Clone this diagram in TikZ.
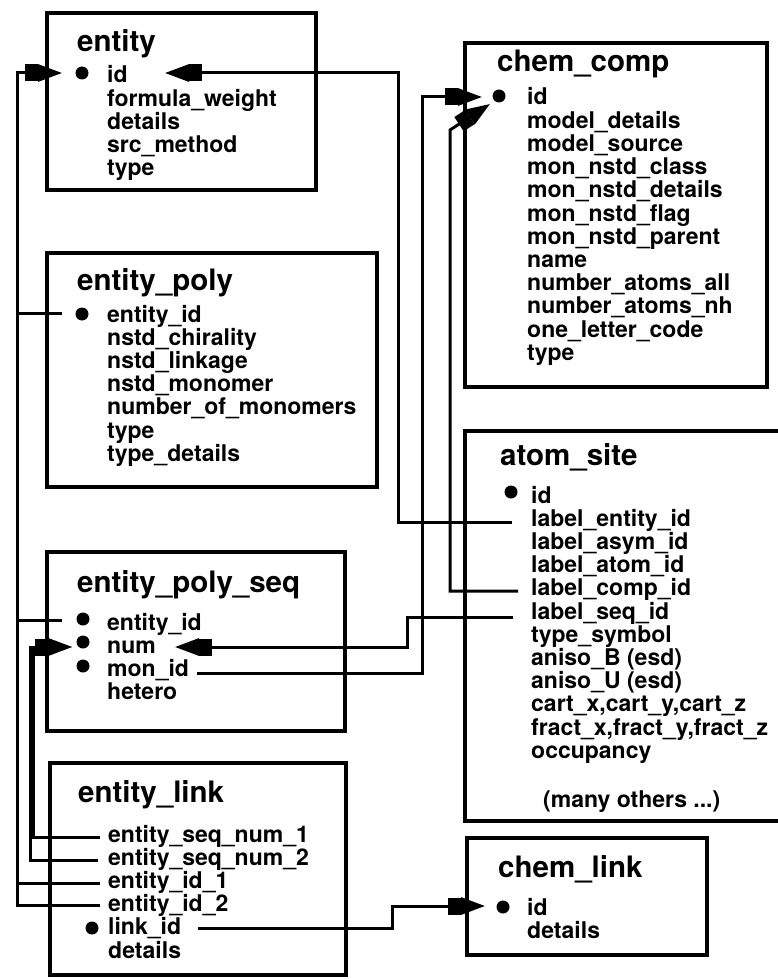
\documentclass[tikz,border=0pt]{standalone}
\usepackage{fontspec}
\setmainfont{TeX Gyre Heros}
\usetikzlibrary{arrows.meta,fit}

% one column of field names, placed on a fixed baseline grid
\newcommand{\fieldlist}[4]{%
  \foreach \txt [count=\k from 0] in {#4} {%
    \node[fld] (#1-\k) at (#2,{#3+\k*23.2}) {\txt};}}

\tikzset{
  tbl/.style={draw, line width=4.5pt, inner sep=0pt},
  ttl/.style={anchor=base west, inner sep=0pt, font=\fontsize{29.5}{29.5}\selectfont\bfseries},
  fld/.style={anchor=base west, inner sep=0pt, font=\fontsize{23}{23}\selectfont\bfseries},
  conn/.style={draw, line width=3pt},
  keydot/.style={circle, fill, inner sep=0pt, minimum size=13pt},
  erarrow/.tip={Rectangle[length=13pt,width=17pt] Triangle[length=24pt,width=17pt]}
}

\begin{document}
\begin{tikzpicture}[x=1pt,y=-1pt]
\useasboundingbox (0,0) rectangle (778,979);
\fill[white] (0,0) rectangle (778,979);
\clip (0,0) rectangle (778,979);

% ---- tables ----
\node[tbl, fit={(47,13) (316,190)}] (entity) {};
\node[tbl, fit={(47,253) (377,487)}] (entitypoly) {};
\node[tbl, fit={(47,552) (345,731)}] (entitypolyseq) {};
\node[tbl, fit={(50,763) (346,975)}] (entitylink) {};
\node[tbl, fit={(465,43) (767,387)}] (chemcomp) {};
\node[tbl, fit={(465,431) (784,821)}] (atomsite) {};
\node[tbl, fit={(467,838) (707,955)}] (chemlink) {};

% ---- titles ----
\node[ttl] (t-entity) at (77,52) {entity};
\node[ttl] (t-entitypoly) at (77,290) {entity\_poly};
\node[ttl] (t-entitypolyseq) at (77,592) {entity\_poly\_seq};
\node[ttl] (t-entitylink) at (78,802) {entity\_link};
\node[ttl] (t-chemcomp) at (497,72) {chem\_comp};
\node[ttl] (t-atomsite) at (500,465) {atom\_site};
\node[ttl] (t-chemlink) at (498,877) {chem\_link};

% ---- fields ----
\fieldlist{ent}{107}{83}{id, formula\_weight, details, src\_method, type}
\fieldlist{ep}{107}{322}{entity\_id, nstd\_chirality, nstd\_linkage,
  nstd\_monomer, number\_of\_monomers, type, type\_details}
\fieldlist{eps}{107}{630}{entity\_id, num, mon\_id, hetero}
\fieldlist{elk}{108}{842}{entity\_seq\_num\_1, entity\_seq\_num\_2,
  entity\_id\_1, entity\_id\_2, link\_id, details}
\fieldlist{cc}{527}{105}{id, model\_details, model\_source, mon\_nstd\_class,
  mon\_nstd\_details, mon\_nstd\_flag, mon\_nstd\_parent, name,
  number\_atoms\_all, number\_atoms\_nh, one\_letter\_code, type}
\fieldlist{as}{531}{503}{id, label\_entity\_id, label\_asym\_id, label\_atom\_id,
  label\_comp\_id, label\_seq\_id, type\_symbol, aniso\_B (esd), aniso\_U (esd),
  {cart\_x,cart\_y,cart\_z}, {fract\_x,fract\_y,fract\_z}, occupancy}
\node[fld] (as-more) at (543,807) {(many others ...)};
\fieldlist{cl}{527}{915}{id, details}

% ---- key markers ----
\node[keydot] (k-ent) at (82,73) {};
\node[keydot] (k-ep) at (82,314) {};
\node[keydot] (k-eps1) at (83,619) {};
\node[keydot] (k-eps2) at (83,642) {};
\node[keydot] (k-eps3) at (83,666) {};
\node[keydot] (k-elk) at (92,928) {};
\node[keydot] (k-cc) at (499,96) {};
\node[keydot] (k-as) at (511,492) {};
\node[keydot] (k-cl) at (503,907) {};

% ---- connector ports ----
\coordinate (ent-idL) at (62,73);
\coordinate (ent-idR) at (165,73);
\coordinate (ep-eid) at (62,313);
\coordinate (eps-eid) at (62,620);
\coordinate (eps-numL) at (72,647);
\coordinate (eps-numR) at (175,647);
\coordinate (eps-mon) at (197,673);
\coordinate (elk-s1) at (100,837);
\coordinate (elk-s2) at (98,860);
\coordinate (elk-e1) at (100,883);
\coordinate (elk-e2) at (100,905);
\coordinate (elk-lid) at (198,928);
\coordinate (cc-idA) at (482,97);
\coordinate (cc-idB) at (490,104);
\coordinate (as-le) at (512,522);
\coordinate (as-lc) at (518,591);
\coordinate (as-ls) at (513,617);
\coordinate (cl-id) at (485,906);

% ---- bends ----
\coordinate (bA) at (17,73);
\coordinate (bB) at (398,73);
\coordinate (bC) at (422,97);
\coordinate (bD) at (450,130);
\coordinate (bE) at (407,647);
\coordinate (bF) at (30,647);
\coordinate (bG) at (33,647);
\coordinate (bH) at (392,906);

% ---- connectors ----
\draw[conn,-{erarrow}] (elk-e2) -| (bA) -- (ent-idL);
\draw[conn] (elk-e1) -- (elk-e1 -| bA);
\draw[conn] (ep-eid) -- (ep-eid -| bA);
\draw[conn] (eps-eid) -- (eps-eid -| bA);
\draw[conn,-{erarrow}] (as-le) -| (bB) -- (ent-idR);
\draw[conn,-{erarrow}] (eps-mon) -| (bC) -- (cc-idA);
\draw[conn,-{erarrow}] (as-lc) -| (bD) -- (cc-idB);
\draw[conn,-{erarrow}] (as-ls) -| (bE) -- (eps-numR);
\draw[conn,-{erarrow}] (elk-s2) -| (bF) -- (eps-numL);
\draw[conn,-{erarrow}] (elk-s1) -| (bG) -- (eps-numL);
\draw[conn,-{erarrow}] (elk-lid) -| (bH) -- (cl-id);
\end{tikzpicture}
\end{document}
